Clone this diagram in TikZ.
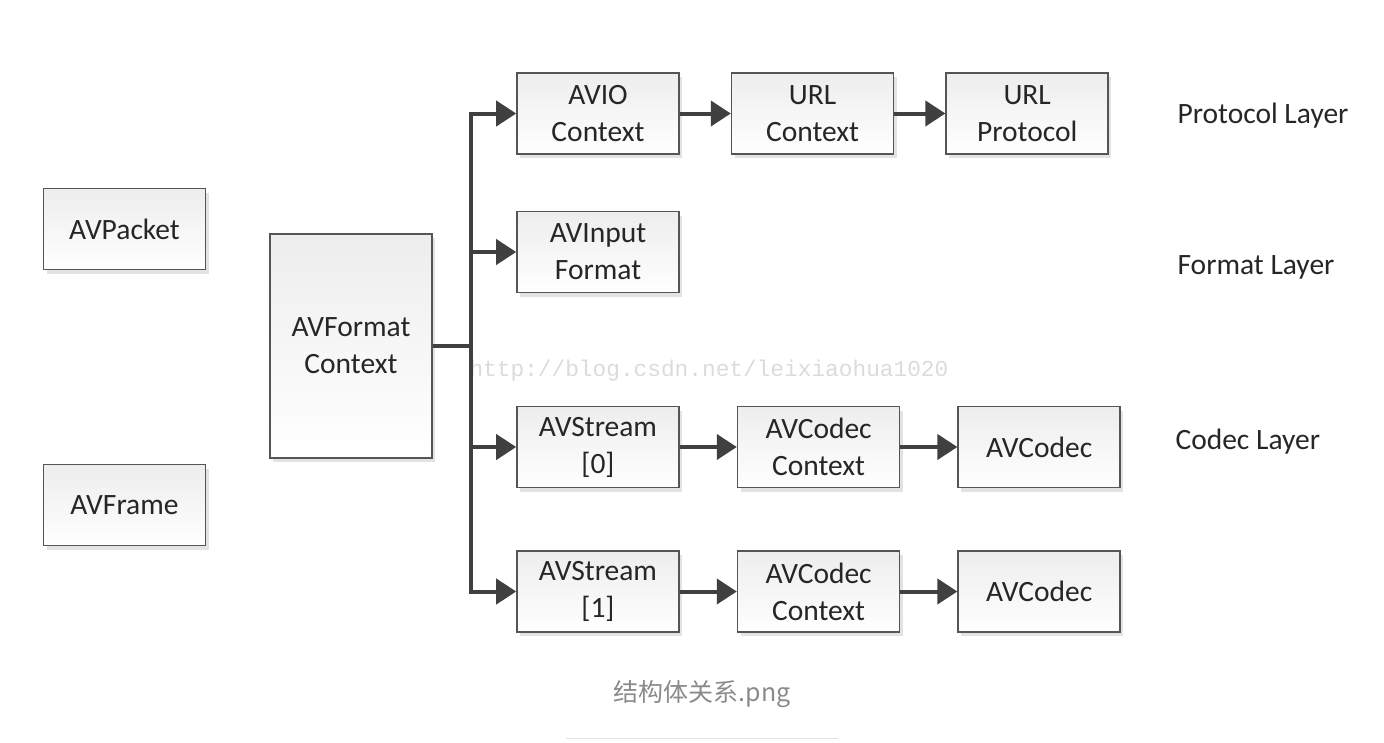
\documentclass[tikz,border=0pt]{standalone}
\usepackage{fontspec}
\setmainfont{Carlito}
\newfontfamily\markfont{Liberation Mono}
\newfontfamily\cjk{Noto Sans CJK SC}
\usepackage{xcolor}
\usepackage{tikz}
\usetikzlibrary{arrows.meta,positioning,shadows}
\definecolor{ffline}{RGB}{64,64,64}
\definecolor{ffedge}{RGB}{85,85,85}
\definecolor{ffcap}{RGB}{138,138,138}

\begin{document}
\begin{tikzpicture}[
        x=1pt, y=-1pt,
        every node/.style={font=\fontsize{29.5}{37}\selectfont, text=black!85},
        box/.style={rectangle, draw=ffedge, line width=1.6pt, top color=gray!14, bottom color=white,
            minimum width=162pt, minimum height=81pt, align=center, inner sep=0pt,
            drop shadow={shadow xshift=3pt, shadow yshift=-4pt, opacity=0.22, fill=gray}},
        flow/.style={draw=ffline, line width=4pt, -{Triangle[length=20pt, width=25pt]}},
        bus/.style={draw=ffline, line width=4pt}
    ]
        \useasboundingbox (0,0) rectangle (1384,742);

        \node[box] (packet) at (124.5,229) {AVPacket};
        \node[box] (frame) at (124.5,505) {AVFrame};
        \node[box, minimum height=224pt] (fmtctx) at (351,346) {AVFormat\\Context};

        \node[box] (avio) at (598,113.5) {AVIO\\Context};
        \node[box, right=51pt of avio] (urlctx) {URL\\Context};
        \node[box, right=51pt of urlctx] (urlproto) {URL\\Protocol};

        \node[box] (inputfmt) at (598,252) {AVInput\\Format};

        \node[box] (stream0) at (598,447) {AVStream\\{[0]}};
        \node[box, right=57pt of stream0] (codecctx0) {AVCodec\\Context};
        \node[box, right=57pt of codecctx0] (codec0) {AVCodec};

        \node[box] (stream1) at (598,591.5) {AVStream\\{[1]}};
        \node[box, right=57pt of stream1] (codecctx1) {AVCodec\\Context};
        \node[box, right=57pt of codecctx1] (codec1) {AVCodec};

        \node[anchor=west] (protolayer) at (1174,116) {Protocol Layer};
        \node[anchor=west] (fmtlayer) at (1174,267) {Format Layer};
        \node[anchor=west] (codeclayer) at (1172,442) {Codec Layer};

        \node[anchor=west, font=\markfont\fontsize{22.8}{26}\selectfont, text=gray!28] (mark) at (466,371) {http://blog.csdn.net/leixiaohua1020};

        \coordinate (split) at (471,346);
        \draw[bus] (fmtctx.east) -- (split);
        \draw[flow] (split) |- (avio.west);
        \draw[flow] (split) |- (inputfmt.west);
        \draw[flow] (split) |- (stream0.west);
        \draw[flow] (split) |- (stream1.west);

        \draw[flow] (avio) -- (urlctx);
        \draw[flow] (urlctx) -- (urlproto);
        \draw[flow] (stream0) -- (codecctx0);
        \draw[flow] (codecctx0) -- (codec0);
        \draw[flow] (stream1) -- (codecctx1);
        \draw[flow] (codecctx1) -- (codec1);

        \node[font=\cjk\fontsize{25}{30}\selectfont, text=ffcap] (caption) at (702,694) {结构体关系.png};
        \coordinate (ruleL) at (566,738);
        \coordinate (ruleR) at (838,738);
        \draw[gray!22, line width=1pt] (ruleL) -- (ruleR);
    \end{tikzpicture}
\end{document}
